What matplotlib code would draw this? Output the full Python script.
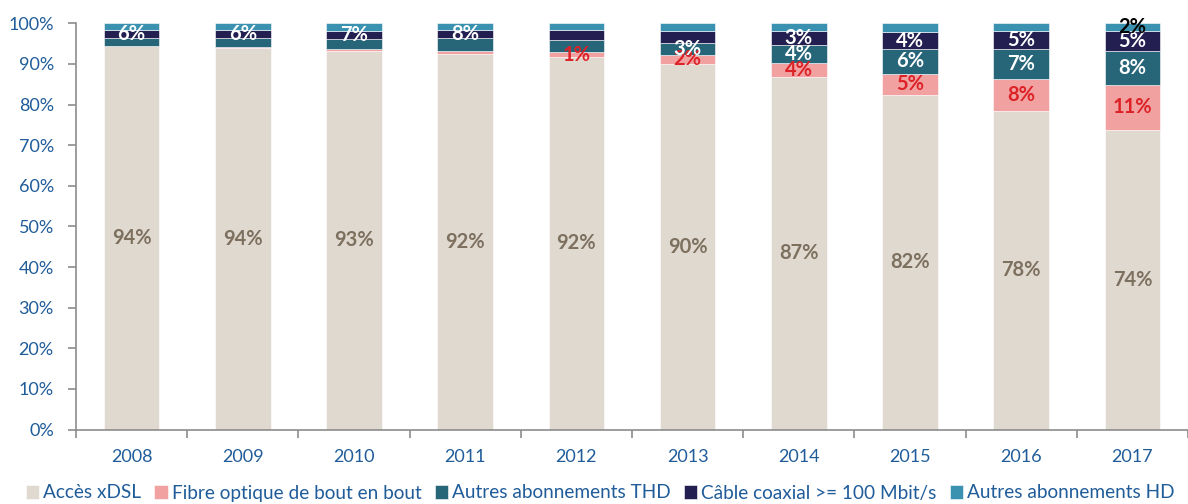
import numpy as np
import matplotlib
matplotlib.use("Agg")
import matplotlib.pyplot as plt
import matplotlib.ticker as ticker

plt.rcParams['font.family'] = ['Lato', 'DejaVu Sans']

years = ["2008", "2009", "2010", "2011", "2012", "2013", "2014", "2015", "2016", "2017"]

# parts du parc (en %)
xdsl = [94.4, 93.8, 93.2, 92.5, 91.7, 90.1, 86.9, 82.4, 78.4, 73.7]
fibre = [0.0, 0.25, 0.4, 0.7, 1.2, 2.2, 3.4, 5.2, 7.9, 11.2]
thd = [2.0, 2.3, 2.6, 3.1, 2.9, 2.9, 4.4, 6.0, 7.3, 8.4]
coax = [1.9, 1.9, 2.0, 2.0, 2.5, 3.0, 3.3, 4.2, 4.5, 4.7]
hd = [1.7, 1.75, 1.8, 1.7, 1.7, 1.8, 2.0, 2.2, 1.9, 2.0]

# etiquettes affichees
xdsl_labels = ["94%", "94%", "93%", "92%", "92%", "90%", "87%", "82%", "78%", "74%"]
fibre_labels = ["", "", "", "", "1%", "2%", "4%", "5%", "8%", "11%"]
thd_labels = ["", "", "", "", "", "3%", "4%", "6%", "7%", "8%"]
coax_labels = ["6%", "6%", "7%", "8%", "", "", "3%", "4%", "5%", "5%"]
hd_labels = ["", "", "", "", "", "", "", "", "", "2%"]

series = [
    ("Accès xDSL", xdsl, xdsl_labels, "#e0d9d0", "#7d705f"),
    ("Fibre optique de bout en bout", fibre, fibre_labels, "#f2a1a1", "#dc2227"),
    ("Autres abonnements THD", thd, thd_labels, "#276578", "white"),
    ("Câble coaxial >= 100 Mbit/s", coax, coax_labels, "#231f50", "white"),
    ("Autres abonnements HD", hd, hd_labels, "#3a92b0", "black"),
]

blue = "#1f5c99"
grey = "#8c8c8c"

fig = plt.figure(figsize=(11.88, 5.04), dpi=100)
ax = fig.add_axes([76 / 1188, (504 - 429.5) / 504, 1 - 76 / 1188, (429.5 - 23.3) / 504])

x = np.arange(len(years))
bottom = np.zeros(len(years))
handles = []
for name, vals, labels, color, tcolor in series:
    vals = np.array(vals)
    b = ax.bar(x, vals, 0.5, bottom=bottom, color=color, label=name,
               edgecolor="white", linewidth=0.4)
    handles.append(b)
    for i, lab in enumerate(labels):
        if lab:
            ax.text(x[i], bottom[i] + vals[i] / 2, lab, ha="center", va="center",
                    color=tcolor, fontsize=14.5, fontweight="bold")
    bottom += vals

ax.set_xlim(-0.5, 9.45)
ax.set_ylim(0, 100)
ax.yaxis.set_major_locator(ticker.MultipleLocator(10))
ax.yaxis.set_major_formatter(ticker.FuncFormatter(lambda v, p: f"{v:.0f}%"))
ax.set_xticks(x)
ax.set_xticklabels(years)
ax.set_xticks(np.arange(-0.5, 10, 1), minor=True)

for s in ["top", "right"]:
    ax.spines[s].set_visible(False)
for s in ["left", "bottom"]:
    ax.spines[s].set_color(grey)
    ax.spines[s].set_linewidth(1.2)

ax.tick_params(axis="y", colors=grey, labelcolor=blue, labelsize=13, length=6, width=1.2, pad=10)
ax.tick_params(axis="x", which="major", length=0, labelcolor=blue, labelsize=13, pad=14)
ax.tick_params(axis="x", which="minor", length=6, width=1.2, colors=grey)

leg = fig.legend(handles=handles, loc="center left", bbox_to_anchor=(26 / 1188, 11 / 504),
                 ncol=5, frameon=False, fontsize=13.7, handlelength=0.7, handleheight=0.7,
                 handletextpad=0.2, columnspacing=0.7, borderaxespad=0, borderpad=0)
for t in leg.get_texts():
    t.set_color(blue)

fig.savefig("out.png", dpi=100)
